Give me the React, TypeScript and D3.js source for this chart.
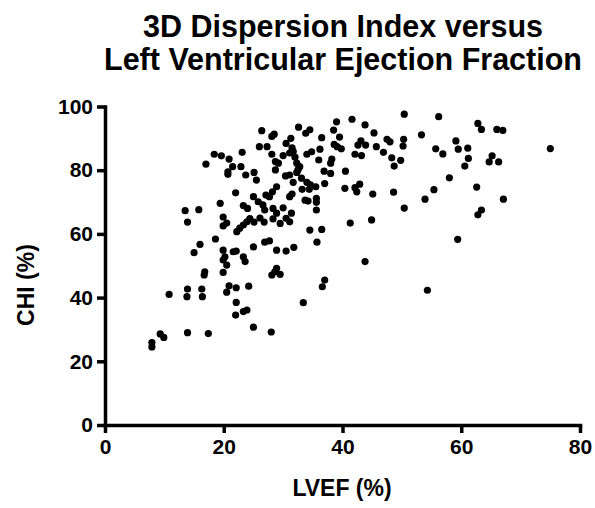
import React, { useEffect, useRef } from 'react';
import * as d3 from 'd3';

// LVEF (%) per patient
const lvef = [
  23.1, 18.4, 19.6, 20.9, 17.0, 21.5, 22.9, 20.7, 20.7, 23.7, 22.0, 19.4, 23.3, 13.5, 15.8, 13.9, 19.9, 20.5, 19.9,
  26.4, 28.1, 28.5, 32.6, 33.8, 34.5, 39.0, 38.5, 41.6, 43.8, 45.3, 39.5, 36.5, 31.3, 30.5, 26.0, 27.3, 28.1, 30.0,
  31.5, 31.7, 31.1, 32.0, 34.0, 34.8, 36.2, 38.6, 39.1, 39.8, 43.1, 42.6, 43.9, 42.1, 43.2, 45.7, 47.5, 48.0, 46.9,
  48.3, 48.7, 36.0, 38.2, 38.0, 28.7, 29.2, 28.7, 32.3, 32.8, 32.5, 32.3, 25.1, 25.5, 30.4, 31.1, 31.7, 33.1, 34.0,
  34.6, 36.9, 38.0, 40.5, 37.0, 35.5, 34.4, 33.2, 28.9, 28.2, 27.1, 27.7, 31.5, 31.1, 25.0, 25.8, 26.6, 26.9, 24.0,
  33.7, 34.2, 35.6, 35.6, 35.6, 30.0, 28.3, 28.9, 31.4, 40.4, 42.1, 42.9, 42.4, 45.1, 48.6, 26.1, 26.8, 41.3, 44.9,
  22.2, 22.7, 23.3, 23.9, 24.4, 25.1,
  28.3, 29.5, 30.5, 31.1, 34.5, 36.5, 35.7, 25.0, 26.9, 27.7, 28.9, 30.5, 31.8, 43.8, 28.9, 28.1, 29.5, 28.6, 37.0,
  36.6, 33.4, 25.0, 28.0,
  18.6, 16.0, 15.0, 19.9, 20.2, 19.9, 20.5, 21.6, 22.1, 23.3, 23.6, 19.9, 16.8, 16.7, 20.9, 22.1, 20.5, 24.2, 13.9,
  13.8, 16.3, 16.4, 10.8, 22.1, 22.0, 23.3, 23.9, 13.9, 17.4, 9.3, 9.9, 7.9, 7.9,
  50.4, 56.2, 62.8, 63.4, 66.0, 67.0, 50.3, 50.2, 53.3, 55.7, 56.9, 59.1, 59.5, 61.1, 61.2, 60.6, 49.8, 65.2, 64.7,
  66.3, 75.0, 58.0, 55.4, 53.9, 62.6, 67.1, 50.4, 63.4, 62.8, 59.4, 54.3,
];

// CHI (%) for the same patients
const chi = [
  85.6, 85.0, 84.5, 83.5, 81.9, 81.1, 81.1, 79.5, 78.7, 78.5, 72.9, 69.6, 68.9, 67.3, 67.6, 63.7, 65.3, 63.4, 62.5,
  92.4, 90.6, 91.3, 93.5, 91.6, 92.7, 95.2, 92.6, 96.0, 94.2, 91.7, 90.4, 90.2, 90.0, 88.4, 87.4, 87.4, 85.0, 84.6,
  87.0, 85.9, 85.4, 84.1, 85.0, 85.8, 86.6, 88.1, 87.4, 86.7, 89.2, 87.9, 87.9, 85.0, 84.6, 87.4, 89.7, 88.9, 85.6,
  83.9, 81.3, 83.2, 83.5, 82.2, 82.7, 82.2, 80.1, 82.2, 81.1, 80.1, 79.3, 79.3, 76.9, 78.2, 78.5, 76.2, 77.5, 76.2,
  75.4, 79.7, 79.0, 79.7, 75.8, 74.8, 74.0, 74.0, 74.8, 73.2, 72.2, 71.7, 72.5, 71.7, 71.7, 70.1, 69.1, 67.5, 68.0,
  70.6, 70.3, 71.2, 69.9, 67.5, 68.2, 68.0, 66.5, 66.5, 74.3, 74.5, 75.6, 73.2, 72.5, 73.1, 65.0, 63.7, 63.4, 64.4,
  60.7, 61.8, 62.8, 63.8, 64.8, 63.7,
  64.7, 63.3, 64.9, 63.8, 61.2, 61.4, 57.4, 55.9, 57.4, 57.8, 54.9, 54.6, 55.8, 51.3, 49.2, 47.1, 47.3, 48.1, 45.5,
  43.4, 38.4, 30.7, 29.2,
  58.4, 56.7, 54.1, 54.9, 52.8, 51.8, 50.2, 54.4, 54.6, 52.8, 51.3, 47.9, 48.1, 47.1, 43.7, 43.1, 41.7, 43.6, 42.7,
  40.3, 42.7, 40.3, 41.0, 38.5, 34.5, 35.6, 36.1, 29.0, 28.7, 28.6, 27.5, 25.9, 24.5,
  97.6, 96.8, 94.7, 92.8, 92.8, 92.5, 89.7, 87.6, 91.1, 86.7, 85.1, 89.2, 86.6, 86.9, 83.7, 81.3, 83.1, 84.5, 82.6,
  82.6, 86.8, 77.6, 73.9, 70.9, 74.7, 70.9, 68.1, 67.5, 66.0, 58.3, 42.3,
];

const xTicks = [0, 20, 40, 60, 80];
const yTicks = [0, 20, 40, 60, 80, 100];
const titleLines = ['3D Dispersion Index versus', 'Left Ventricular Ejection Fraction'];

const W = 595;
const H = 508;
const font = '"Liberation Sans", Arial, Helvetica, sans-serif';

export default function App() {
  const xAxisRef = useRef<SVGGElement>(null);
  const yAxisRef = useRef<SVGGElement>(null);

  const x = d3.scaleLinear().domain([0, 80]).range([105, 580]);
  const y = d3.scaleLinear().domain([0, 100]).range([425, 106.5]);

  useEffect(() => {
    const xa = d3.select(xAxisRef.current);
    xa.call(d3.axisBottom(x).tickValues(xTicks).tickSize(8).tickSizeOuter(0).tickPadding(6));
    const ya = d3.select(yAxisRef.current);
    ya.call(d3.axisLeft(y).tickValues(yTicks).tickSize(8).tickSizeOuter(0).tickPadding(4));

    [xa, ya].forEach(g => {
      g.select('.domain').attr('stroke', '#000').attr('stroke-width', 3.5).attr('stroke-linecap', 'square');
      g.selectAll('.tick line').attr('stroke', '#000').attr('stroke-width', 3.5);
      g.selectAll('.tick text')
        .attr('fill', '#000')
        .style('font-family', font)
        .style('font-weight', 'bold')
        .style('font-size', '21px');
    });
  }, []);

  const points = lvef.map((v, i) => [v, chi[i]]);

  return (
    <svg width={W} height={H} style={{ position: 'absolute', left: 0, top: 0, background: '#fff' }}>
      <g fontFamily={font} fontWeight="bold" fill="#000" textAnchor="middle">
        {titleLines.map((t, i) => (
          <text key={i} x={343} y={37 + i * 33} fontSize={30.5}>
            {t}
          </text>
        ))}
        <text x={342} y={496} fontSize={23}>LVEF (%)</text>
        <text transform="translate(34,285) rotate(-90)" fontSize={23}>CHI (%)</text>
      </g>
      <g>
        {points.map((p, i) => (
          <circle key={i} cx={x(p[0])} cy={y(p[1])} r={3.6} fill="#000" />
        ))}
      </g>
      <g ref={xAxisRef} transform={`translate(0,${y(0)})`} />
      <g ref={yAxisRef} transform={`translate(${x(0)},0)`} />
    </svg>
  );
}
